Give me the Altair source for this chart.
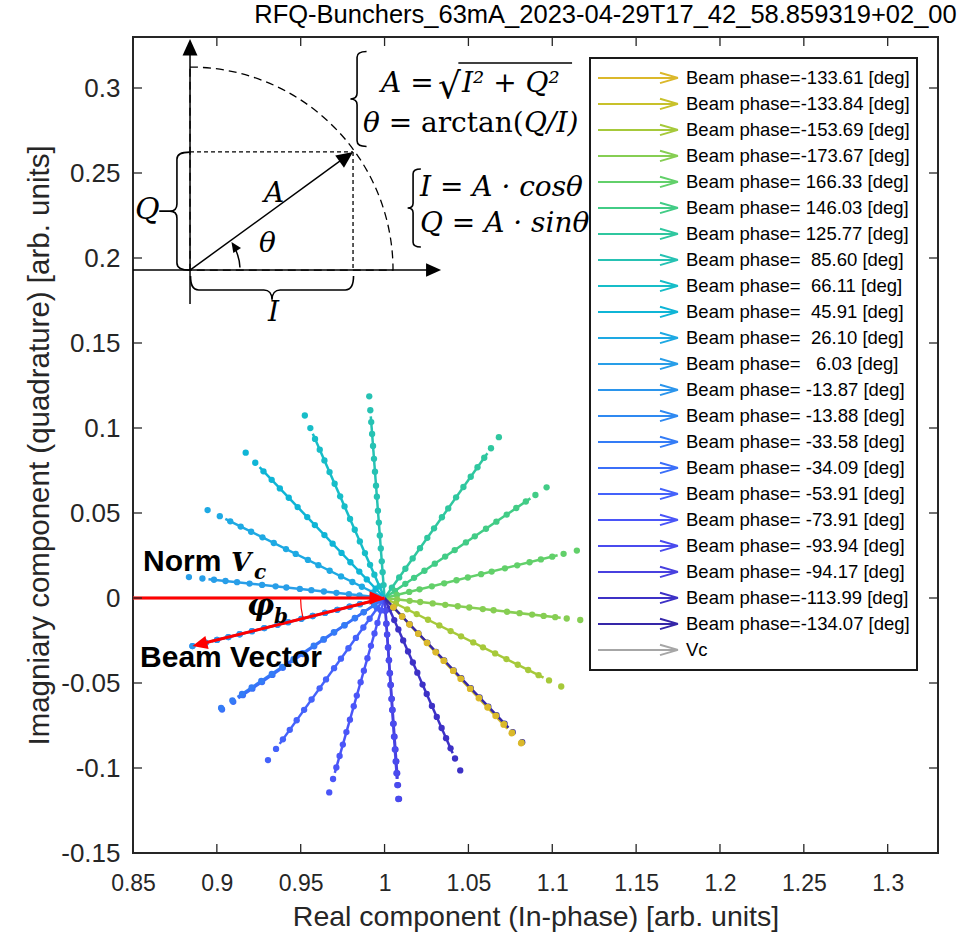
import math
import altair as alt
import pandas as pd

# ---------------------------------------------------------------- data ----
TITLE = "RFQ-Bunchers_63mA_2023-04-29T17_42_58.859319+02_00"

# beam phase of every scan step [deg]
beam_phase_deg = [-133.61, -133.84, -153.69, -173.67, 166.33, 146.03, 125.77,
                  85.60, 66.11, 45.91, 26.10, 6.03, -13.87, -13.88, -33.58,
                  -34.09, -53.91, -73.91, -93.94, -94.17, -113.99, -134.07]
# largest beam-loading amplitude reached in each scan [arb. units]
peak_amplitude = [0.118, 0.118, 0.1175, 0.1174, 0.118, 0.1165, 0.1166,
                  0.119, 0.1174, 0.119, 0.1175, 0.1173, 0.118, 0.118, 0.117,
                  0.117, 0.118, 0.119, 0.1185, 0.1185, 0.111, 0.118]
# relative beam current of the samples taken along each scan
current_fraction = [0.064, 0.128, 0.182, 0.246, 0.310, 0.374, 0.433, 0.502,
                    0.557, 0.626, 0.690, 0.754, 0.813, 0.872, 0.931, 1.000]
series_colors = ["#dbb82b", "#c8c12a", "#a6c93a", "#86ce53", "#62d06a",
                 "#42cc86", "#2fc79f", "#26c2b3", "#17bdc8", "#0fb5d6",
                 "#1ea9e3", "#289ee8", "#2b95ec", "#2f89f1", "#347cf6",
                 "#3b6ff9", "#4462fb", "#4a55f8", "#4a4bee", "#4840df",
                 "#3d31c6", "#3526a8"]
VC_LABEL = "Vc"
VC_COLOR = "#a6a6a6"
VC_VECTOR = (0.0, 0.0, 1.0, 0.0)       # normalised cavity voltage
QUIVER_SCALE = 0.9                       # arrow shaft shortening
BEAM_REF_PHASE = -13.87                  # scan used for the phi_b sketch
BEAM_REF_AMPL = 0.118

x_ticks = [0.85, 0.9, 0.95, 1.0, 1.05, 1.1, 1.15, 1.2, 1.25, 1.3]
y_ticks = [-0.15, -0.1, -0.05, 0.0, 0.05, 0.1, 0.15, 0.2, 0.25, 0.3]
X_DOMAIN = [0.85, 1.33]
Y_DOMAIN = [-0.15, 0.33]

# ------------------------------------------------------------- styling ----
PLOT_W, PLOT_H = 805, 816
TICK_LEN = 9
SANS = "Liberation Sans, Arial, Helvetica"
MATH = "DejaVu Serif, serif"
INK = "#262626"
ARROWHEAD = "M0,0L0.45,1L-0.45,1Z"
LEGEND_ARROW = "M-1,0L1,0M0.55,-0.13L1,0M1,0L0.55,0.13"
BRACE_LEFT = ("M0.2,-1C0.06,-1,0,-0.96,0,-0.88L0,-0.12C0,-0.04,-0.05,0,-0.14,0"
              "C-0.05,0,0,0.04,0,0.12L0,0.88C0,0.96,0.06,1,0.2,1")
BRACE_Q = ("M0.22,-1C0.06,-1,0,-0.96,0,-0.88L0,-0.12C0,-0.04,-0.05,0,-0.12,0L-0.3,0"
           "M-0.12,0C-0.05,0,0,0.04,0,0.12L0,0.88C0,0.96,0.06,1,0.22,1")
BRACE_I = ("M-1,-0.17C-1,-0.05,-0.97,0,-0.9,0L-0.1,0C-0.04,0,0,0.04,0,0.12"
           "C0,0.04,0.04,0,0.1,0L0.9,0C0.97,0,1,-0.05,1,-0.17")


def phase_label(p):
    return "Beam phase=" + f"{p:7.2f}".replace(" ", "\u00a0") + " [deg]"


labels = [phase_label(p) for p in beam_phase_deg]


def iq(phase_deg, amp):
    """Cavity voltage seen with a beam of given phase/amplitude."""
    a = math.radians(phase_deg)
    return 1.0 - amp * math.cos(a), amp * math.sin(a)


# ---------------------------------------------------------- fan of scans --
dot_rows, shaft_rows = [], []
for k, (lab, p, amax) in enumerate(zip(labels, beam_phase_deg, peak_amplitude)):
    for f in current_fraction:
        i_, q_ = iq(p, amax * f)
        dot_rows.append({"series": lab, "k": k, "I": i_, "Q": q_})
    i_, q_ = iq(p, amax * QUIVER_SCALE)
    shaft_rows.append({"series": lab, "pt": 0, "I": 1.0, "Q": 0.0})
    shaft_rows.append({"series": lab, "pt": 1, "I": i_, "Q": q_})
shaft_rows.append({"series": VC_LABEL, "pt": 0, "I": VC_VECTOR[0], "Q": VC_VECTOR[1]})
shaft_rows.append({"series": VC_LABEL, "pt": 1, "I": VC_VECTOR[2], "Q": VC_VECTOR[3]})
dots = pd.DataFrame(dot_rows).sort_values("k", ascending=False)
shafts = pd.DataFrame(shaft_rows)

x_scale = alt.Scale(domain=X_DOMAIN, nice=False, zero=False)
y_scale = alt.Scale(domain=Y_DOMAIN, nice=False, zero=False)
color_scale = alt.Scale(domain=labels + [VC_LABEL], range=series_colors + [VC_COLOR])

LABEL_EXPR = "replace(format(datum.value, '.2~f'), '\u2212', '-')"
x_axis = alt.Axis(values=x_ticks, title="Real component (In-phase) [arb. units]",
                  grid=False, domain=False, ticks=False, labelExpr=LABEL_EXPR,
                  labelFont=SANS, labelFontSize=23, labelColor=INK,
                  labelPadding=19, labelFlush=False, labelOverlap=False,
                  titleFont=SANS, titleFontSize=28.5, titleFontWeight="normal",
                  titleColor=INK, titlePadding=7)
y_axis = alt.Axis(values=y_ticks, title="Imagniary component (quadrature) [arb. units]",
                  grid=False, domain=False, ticks=False, labelExpr=LABEL_EXPR,
                  labelFont=SANS, labelFontSize=26, labelColor=INK,
                  labelPadding=13, labelFlush=False, labelOverlap=False,
                  titleFont=SANS, titleFontSize=29.5, titleFontWeight="normal",
                  titleColor=INK, titlePadding=6)


def X(field="I"):
    return alt.X(f"{field}:Q", scale=x_scale, axis=x_axis)


def Y(field="Q"):
    return alt.Y(f"{field}:Q", scale=y_scale, axis=y_axis)


legend = alt.Legend(title=None, orient="none", legendX=457, legendY=21,
                    symbolType=LEGEND_ARROW, symbolSize=6400, symbolStrokeWidth=2,
                    symbolFillColor="transparent", labelFont=SANS,
                    labelFontSize=18.5, labelColor="black", labelLimit=400,
                    labelOffset=7, clipHeight=25.8, rowPadding=0, padding=7,
                    strokeColor="#1a1a1a", fillColor="white")

shaft_layer = alt.Chart(shafts).mark_line(strokeWidth=2.5, clip=True).encode(
    x=X(), y=Y(),
    color=alt.Color("series:N", scale=color_scale, legend=legend, sort=None),
    order=alt.Order("pt:Q"),
)
dot_layer = alt.Chart(dots).mark_circle(size=40, opacity=1).encode(
    x=X(), y=Y(),
    color=alt.Color("series:N", scale=color_scale, legend=None),
)

# ------------------------------------------------- phi_b annotation -------
beam_i, beam_q = iq(BEAM_REF_PHASE, BEAM_REF_AMPL)
beam_dir = math.degrees(math.atan2(beam_q, beam_i - 1.0))      # math angle
beam_compass = (90.0 - beam_dir) % 360.0
shaft_end_i, shaft_end_q = iq(BEAM_REF_PHASE, BEAM_REF_AMPL - 0.008)
red_rules = pd.DataFrame([
    {"I": 0.85, "Q": 0.0, "I2": 0.992, "Q2": 0.0},
    {"I": 1.0, "Q": 0.0, "I2": shaft_end_i, "Q2": shaft_end_q},
])
red_heads = pd.DataFrame([
    {"I": 1.0, "Q": 0.0, "ang": 90.0, "sz": 900},
    {"I": beam_i, "Q": beam_q, "ang": beam_compass, "sz": 900},
])
red_rule_layer = alt.Chart(red_rules).mark_rule(color="#ff0000", strokeWidth=3).encode(
    x=X(), y=Y(), x2="I2:Q", y2="Q2:Q")
red_head_layer = alt.Chart(red_heads).mark_point(
    shape=ARROWHEAD, filled=True, color="#ff0000", opacity=1, strokeWidth=0).encode(
    x=X(), y=Y(), angle=alt.Angle("ang:Q", scale=None), size=alt.Size("sz:Q", scale=None))
phi_arc = alt.Chart(pd.DataFrame([{"I": 1.0, "Q": 0.0}])).mark_arc(
    radius=84, radius2=84, theta=math.radians(beam_compass), theta2=math.radians(270),
    filled=False, color="#ff0000", strokeWidth=1.2).encode(x=X(), y=Y())

# ---------------------------------------------------- I/Q sketch ----------
O_I, O_Q = 0.8840, 0.1929
A_I, A_Q = 0.9812, 0.2624
sketch_rules = pd.DataFrame([
    {"I": O_I, "Q": 0.1729, "I2": O_I, "Q2": 0.322},
    {"I": 0.85, "Q": O_Q, "I2": 1.028, "Q2": O_Q},
    {"I": O_I, "Q": O_Q, "I2": 0.977, "Q2": 0.2596},
    {"I": 1.0440, "Q": 0.3147, "I2": 1.1118, "Q2": 0.3147},
])
sketch_dashes = pd.DataFrame([
    {"I": O_I, "Q": A_Q, "I2": A_I, "Q2": A_Q},
    {"I": A_I, "Q": A_Q, "I2": A_I, "Q2": O_Q},
])
sketch_heads = pd.DataFrame([
    {"I": O_I, "Q": 0.3288, "ang": 0.0, "sz": 1100},
    {"I": 1.0337, "Q": O_Q, "ang": 90.0, "sz": 900},
    {"I": A_I, "Q": A_Q, "ang": 54.1, "sz": 1100},
    {"I": 0.9087, "Q": 0.2094, "ang": 326.0, "sz": 420},
])
sketch_rule_layer = alt.Chart(sketch_rules).mark_rule(color="black", strokeWidth=1.5).encode(
    x=X(), y=Y(), x2="I2:Q", y2="Q2:Q")
sketch_dash_layer = alt.Chart(sketch_dashes).mark_rule(
    color="black", strokeWidth=1.3, strokeDash=[4, 3]).encode(x=X(), y=Y(), x2="I2:Q", y2="Q2:Q")
sketch_head_layer = alt.Chart(sketch_heads).mark_point(
    shape=ARROWHEAD, filled=True, color="black", opacity=1, strokeWidth=0).encode(
    x=X(), y=Y(), angle=alt.Angle("ang:Q", scale=None), size=alt.Size("sz:Q", scale=None))
origin_df = pd.DataFrame([{"I": O_I, "Q": O_Q}])
quarter_circle = alt.Chart(origin_df).mark_arc(
    radius=203, radius2=0, theta=0, theta2=math.pi / 2, filled=False, color="black",
    strokeWidth=1.3, strokeDash=[8, 5]).encode(x=X(), y=Y())
theta_arc = alt.Chart(origin_df).mark_arc(
    radius=50, radius2=50, theta=math.radians(60), theta2=math.radians(87),
    filled=False, color="black", strokeWidth=1.5).encode(x=X(), y=Y())


def brace_layer(path, rows):
    return alt.Chart(pd.DataFrame(rows)).mark_point(
        shape=path, filled=False, color="black", opacity=1, strokeWidth=1.6).encode(
        x=X(), y=Y(), size=alt.Size("sz:Q", scale=None))


braces = [
    brace_layer(BRACE_LEFT, [{"I": 0.9836, "Q": 0.2935, "sz": 9025},
                             {"I": 1.0170, "Q": 0.2294, "sz": 6084}]),
    brace_layer(BRACE_Q, [{"I": 0.8762, "Q": 0.2276, "sz": 13924}]),
    brace_layer(BRACE_I, [{"I": 0.9329, "Q": 0.1812, "sz": 26569}]),
]


def text_layer(rows, **style):
    return alt.Chart(pd.DataFrame(rows)).mark_text(
        align="left", baseline="alphabetic", **style).encode(
        x=X(), y=Y(), text="t:N", size=alt.Size("fs:Q", scale=None))


bold_sans = text_layer([
    {"I": 0.8560, "Q": 0.0159, "t": "Norm", "fs": 30},
    {"I": 0.8542, "Q": -0.0406, "t": "Beam Vector", "fs": 30},
], font=SANS, fontWeight="bold", color="black")
bold_math = text_layer([
    {"I": 0.9084, "Q": 0.0159, "t": "V", "fs": 26},
    {"I": 0.9222, "Q": 0.0109, "t": "c", "fs": 20},
    {"I": 0.9180, "Q": -0.0100, "t": "φ", "fs": 30},
    {"I": 0.9340, "Q": -0.0147, "t": "b", "fs": 20},
], font=MATH, fontWeight="bold", fontStyle="italic", color="black")
italic_math = text_layer([
    {"I": 0.8512, "Q": 0.2229, "t": "Q", "fs": 30},
    {"I": 0.9281, "Q": 0.2329, "t": "A", "fs": 28},
    {"I": 0.9251, "Q": 0.2035, "t": "θ", "fs": 28},
    {"I": 0.9305, "Q": 0.1630, "t": "I", "fs": 28},
    {"I": 0.9979, "Q": 0.2976, "t": "A =", "fs": 28},
    {"I": 1.0462, "Q": 0.2976, "t": "I² + Q²", "fs": 28},
    {"I": 0.9871, "Q": 0.2741, "t": "θ =", "fs": 28},
    {"I": 1.0832, "Q": 0.2741, "t": "Q/I)", "fs": 28},
    {"I": 1.0211, "Q": 0.2365, "t": "I = A · cosθ", "fs": 28},
    {"I": 1.0211, "Q": 0.2153, "t": "Q = A · sinθ", "fs": 28},
], font=MATH, fontStyle="italic", color="black")
upright_math = text_layer([
    {"I": 1.0217, "Q": 0.2741, "t": "arctan(", "fs": 28},
    {"I": 1.0319, "Q": 0.2941, "t": "√", "fs": 36},
], font=MATH, color="black")

# ------------------------------------------------------ inward ticks -------
xt = pd.DataFrame({"I": x_ticks})
yt = pd.DataFrame({"Q": y_ticks})
tick_style = dict(color=INK, strokeWidth=1.3)
ticks = [
    alt.Chart(xt).mark_rule(**tick_style).encode(
        x=X(), y=alt.value(PLOT_H), y2=alt.value(PLOT_H - TICK_LEN)),
    alt.Chart(xt).mark_rule(**tick_style).encode(
        x=X(), y=alt.value(0), y2=alt.value(TICK_LEN)),
    alt.Chart(yt).mark_rule(**tick_style).encode(
        y=Y(), x=alt.value(0), x2=alt.value(TICK_LEN)),
    alt.Chart(yt).mark_rule(**tick_style).encode(
        y=Y(), x=alt.value(PLOT_W), x2=alt.value(PLOT_W - TICK_LEN)),
]

chart = alt.layer(
    quarter_circle, sketch_dash_layer, sketch_rule_layer, theta_arc, sketch_head_layer,
    *braces, italic_math, upright_math,
    shaft_layer, dot_layer,
    red_rule_layer, red_head_layer, phi_arc, bold_sans, bold_math,
    *ticks,
).properties(
    width=PLOT_W, height=PLOT_H,
    title=alt.TitleParams(TITLE, font=SANS, fontSize=25.5, fontWeight="normal",
                          color="black", anchor="middle", dx=70, offset=8),
    autosize=alt.AutoSizeParams(type="none"),
    padding={"left": 133, "top": 37, "right": 23, "bottom": 89},
).configure_view(
    stroke=INK, strokeWidth=2,
).configure_legend(
    strokeWidth=2,
)

chart.save("out.html", embed_options={"renderer": "svg", "actions": False})
